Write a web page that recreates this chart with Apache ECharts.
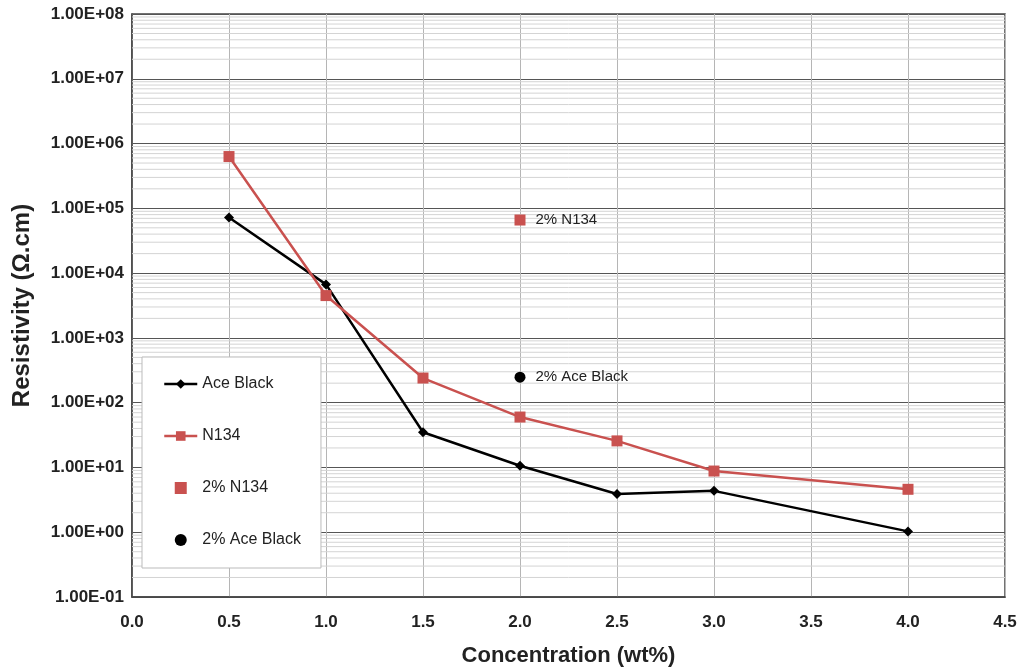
<!DOCTYPE html>
<html>
<head>
<meta charset="utf-8">
<script src="https://cdn.jsdelivr.net/npm/echarts@6/dist/echarts.min.js"></script>
<style>html,body{margin:0;padding:0;background:#fff}#c{width:1023px;height:672px}</style>
</head>
<body>
<div id="c"></div>
<script>
const concentrations = [0.5, 1.0, 1.5, 2.0, 2.5, 3.0, 4.0];
const aceBlack = [72000, 6700, 35, 10.6, 3.9, 4.35, 1.03];
const n134 = [630000, 4500, 240, 60, 25.7, 8.8, 4.6];
const n134_2pct = [[2.0, 66000]];
const aceBlack_2pct = [[2.0, 247]];
const seriesNames = ['Ace Black', 'N134', '2% N134', '2% Ace Black'];

// minor log gridlines (2..9 per decade)
const minorGrid = [];
for (let d = -1; d < 8; d++) for (let k = 2; k <= 9; k++) minorGrid.push([0, k * Math.pow(10, d)]);

const RED = '#C9514F';
const FONT = '"Liberation Sans", Arial, sans-serif';
const SQUARE = 'path://M0,0L10,0L10,10L0,10Z';

const chart = echarts.init(document.getElementById('c'), null, {renderer: 'canvas'});
chart.setOption({
  animation: false,
  backgroundColor: '#fff',
  grid: {left: 132, right: 18, top: 14, bottom: 75, show: true, borderColor: '#444', borderWidth: 1.5, backgroundColor: 'transparent'},
  legend: {
    data: [
      {name: seriesNames[0]},
      {name: seriesNames[1]},
      {name: seriesNames[2], icon: SQUARE},
      {name: seriesNames[3], icon: 'circle'}
    ],
    orient: 'vertical',
    left: 142, top: 357,
    padding: [19, 20, 20, 21],
    itemGap: 36,
    itemWidth: 33, itemHeight: 12,
    symbolKeepAspect: true,
    backgroundColor: '#fff',
    borderColor: '#bbb', borderWidth: 1,
    lineStyle: {width: 2.5},
    textStyle: {fontFamily: FONT, fontSize: 16, color: '#222'}
  },
  xAxis: {
    type: 'value', min: 0, max: 4.5, interval: 0.5,
    name: 'Concentration (wt%)', nameLocation: 'middle', nameGap: 48,
    nameTextStyle: {fontFamily: FONT, fontSize: 22, fontWeight: 'bold', color: '#222'},
    axisLine: {show: true, lineStyle: {color: '#444', width: 1.5}},
    axisTick: {show: false},
    axisLabel: {margin: 17, fontFamily: FONT, fontSize: 17, fontWeight: 'bold', color: '#222', formatter: v => v.toFixed(1)},
    splitLine: {show: true, lineStyle: {color: '#b5b5b5', width: 1}}
  },
  yAxis: {
    type: 'log', logBase: 10, min: 0.1, max: 1e8, splitNumber: 9,
    name: 'Resistivity (\u03A9.cm)', nameLocation: 'middle', nameGap: 98,
    nameTextStyle: {fontFamily: FONT, fontSize: 24, fontWeight: 'bold', color: '#222'},
    axisLine: {show: true, lineStyle: {color: '#444', width: 1.5}},
    axisTick: {show: false},
    axisLabel: {margin: 8, fontFamily: FONT, fontSize: 17, fontWeight: 'bold', color: '#222',
      formatter: v => { const e = Math.round(Math.log10(v)); return '1.00E' + (e < 0 ? '-' : '+') + String(Math.abs(e)).padStart(2, '0'); }},
    splitLine: {show: true, lineStyle: {color: '#555', width: 1.2}}
  },
  series: [
    {
      type: 'custom', name: 'minor', silent: true, z: 1,
      data: minorGrid, encode: {x: 0, y: 1},
      renderItem: (params, api) => {
        const y = api.coord([0, api.value(1)])[1];
        const cs = params.coordSys;
        return {type: 'line', shape: {x1: cs.x, y1: y, x2: cs.x + cs.width, y2: y}, style: {stroke: '#d4d4d4', lineWidth: 1}};
      }
    },
    {
      name: seriesNames[0], type: 'line', z: 3,
      data: concentrations.map((c, i) => [c, aceBlack[i]]),
      symbol: 'diamond', symbolSize: 10,
      itemStyle: {color: '#000'}, lineStyle: {color: '#000', width: 2.5}
    },
    {
      name: seriesNames[1], type: 'line', z: 4,
      data: concentrations.map((c, i) => [c, n134[i]]),
      symbol: 'rect', symbolSize: 11,
      itemStyle: {color: RED}, lineStyle: {color: RED, width: 2.5}
    },
    {
      name: seriesNames[2], type: 'scatter', z: 4,
      data: n134_2pct, symbol: 'rect', symbolSize: 11,
      itemStyle: {color: RED, opacity: 1},
      label: {show: true, position: 'right', distance: 10, formatter: seriesNames[2], fontFamily: FONT, fontSize: 15, color: '#222'}
    },
    {
      name: seriesNames[3], type: 'scatter', z: 4,
      data: aceBlack_2pct, symbol: 'circle', symbolSize: 11,
      itemStyle: {color: '#000', opacity: 1},
      label: {show: true, position: 'right', distance: 10, formatter: seriesNames[3], fontFamily: FONT, fontSize: 15, color: '#222'}
    }
  ]
});
</script>
</body>
</html>
